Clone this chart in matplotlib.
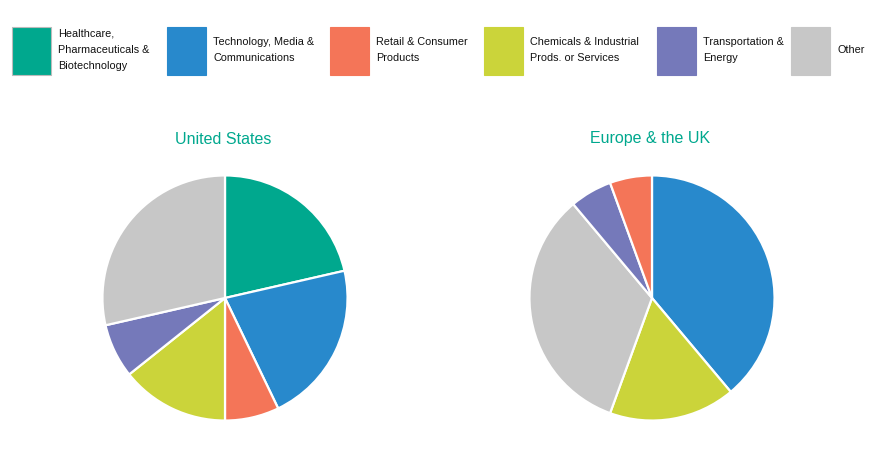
import matplotlib.pyplot as plt
from matplotlib.patches import Rectangle

plt.rcParams['font.family'] = ['Liberation Sans', 'DejaVu Sans']

# legend categories and colours
categories = ['Healthcare,\nPharmaceuticals &\nBiotechnology',
              'Technology, Media &\nCommunications',
              'Retail & Consumer\nProducts',
              'Chemicals & Industrial\nProds. or Services',
              'Transportation &\nEnergy',
              'Other']
colors = ['#00A88E', '#2889CC', '#F47558', '#CBD43A', '#7579BA', '#C7C7C7']

# United States (share of deals, clockwise from 12 o'clock)
us_labels = ['Healthcare', 'Technology', 'Retail', 'Chemicals', 'Transportation', 'Other']
us_values = [3, 3, 1, 2, 1, 4]

# Europe & the UK (drawn clockwise in this order)
eu_labels = ['Technology', 'Chemicals', 'Other', 'Transportation', 'Retail']
eu_values = [7, 3, 6, 1, 1]

color_of = dict(zip(['Healthcare', 'Technology', 'Retail', 'Chemicals', 'Transportation', 'Other'], colors))

W, H = 883, 451
fig = plt.figure(figsize=(W / 100, H / 100), dpi=100)

# legend row drawn on a full-figure axes in pixel coordinates
lax = fig.add_axes([0, 0, 1, 1])
lax.set_xlim(0, W)
lax.set_ylim(H, 0)
lax.axis('off')
swatch_x = [12, 167, 330, 484, 657, 791]
for i, (name, col) in enumerate(zip(categories, colors)):
    x0 = swatch_x[i]
    edge = '#BBBBBB' if i == 0 else col
    lax.add_patch(Rectangle((x0, 27), 39, 48, facecolor=col, edgecolor=edge, linewidth=0.8))
    lax.text(x0 + 46, 50, name, fontsize=7.8, va='center', ha='left',
             color='#111111', linespacing=1.8)


def draw_pie(cx, cy, r, labels, values, title):
    ax = fig.add_axes([(cx - r) / W, 1 - (cy + r) / H, 2 * r / W, 2 * r / H])
    ax.pie(values, colors=[color_of[l] for l in labels], startangle=90,
           counterclock=False, radius=1,
           wedgeprops=dict(edgecolor='white', linewidth=1.6))
    ax.set_xlim(-1.02, 1.02)
    ax.set_ylim(-1.02, 1.02)
    ax.set_aspect('equal')
    lax.text(cx - 2, 139, title, fontsize=11.5, color='#00A88E', ha='center', va='center')


draw_pie(225, 298, 125, us_labels, us_values, 'United States')
draw_pie(652, 298, 125, eu_labels, eu_values, 'Europe & the UK')

fig.savefig('out.png', dpi=100)
